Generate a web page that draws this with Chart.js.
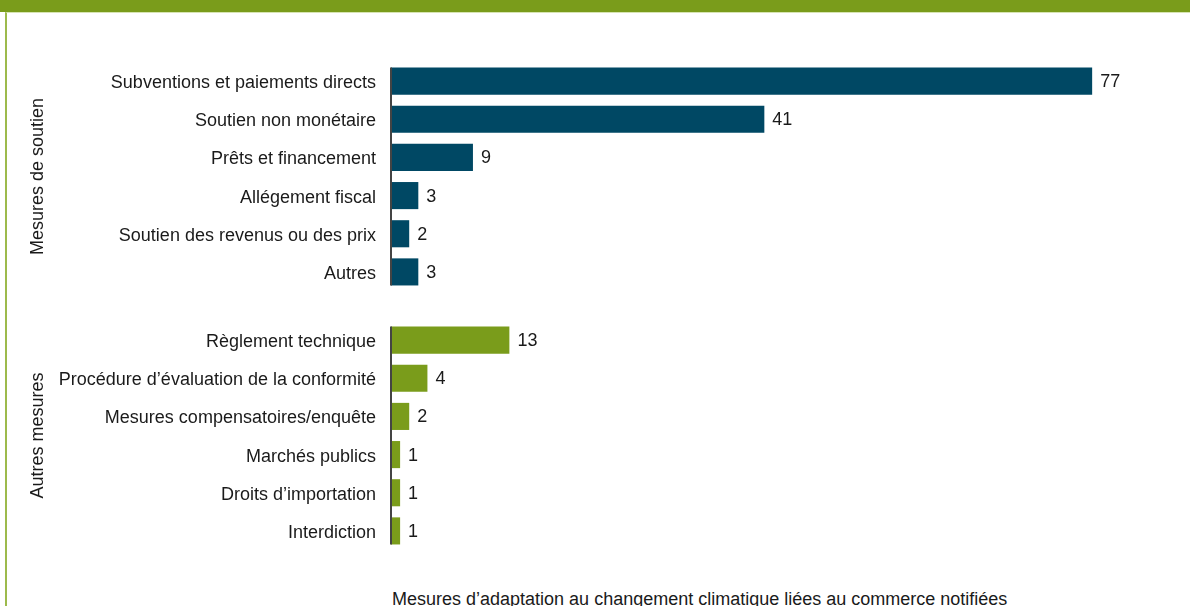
<!DOCTYPE html>
<html>
<head>
<meta charset="utf-8">
<script src="https://cdn.jsdelivr.net/npm/chart.js@4/dist/chart.umd.min.js"></script>
<style>
  html, body { margin: 0; padding: 0; background: #fff; }
  body { width: 1190px; height: 606px; overflow: hidden; position: relative; font-family: "Liberation Sans", Arial, sans-serif; }
  .entete { position: absolute; left: 0; top: 0; width: 1190px; height: 12px; background: #7a9c1b; }
  .cadre { position: absolute; left: 5px; top: 12px; width: 1190px; height: 600px; border-left: 2px solid #9dba4c; border-top: 1px solid #d7e4b3; }
  .boite { position: absolute; left: 0; width: 1190px; }
  #haut { top: 62px; height: 229px; }
  #bas { top: 321px; height: 229px; }
  .titre-x { position: absolute; left: 392px; top: 589px; font-size: 18px; color: #1a1a1a; white-space: nowrap; }
</style>
</head>
<body>
<div class="entete"></div>
<div class="cadre"></div>
<div class="boite" id="haut"><canvas id="chartSoutien"></canvas></div>
<div class="boite" id="bas"><canvas id="chartAutres"></canvas></div>
<div class="titre-x">Mesures d’adaptation au changement climatique liées au commerce notifiées</div>

<script>
// données
const categoriesSoutien = ['Subventions et paiements directs', 'Soutien non monétaire', 'Prêts et financement', 'Allégement fiscal', 'Soutien des revenus ou des prix', 'Autres'];
const valeursSoutien = [77, 41, 9, 3, 2, 3];

const categoriesAutres = ['Règlement technique', 'Procédure d’évaluation de la conformité', 'Mesures compensatoires/enquête', 'Marchés publics', 'Droits d’importation', 'Interdiction'];
const valeursAutres = [13, 4, 2, 1, 1, 1];

const couleurSoutien = '#004864';
const couleurAutres = '#7a9c1b';
const police = "'Liberation Sans', Arial, sans-serif";
const taille = 18;

// axe vertical + étiquettes de valeur
const etiquettesPlugin = {
    id: 'etiquettes',
    afterDatasetsDraw(chart) {
        const ctx = chart.ctx;
        const bars = chart.getDatasetMeta(0).data;
        const x0 = chart.scales.x.getPixelForValue(0);

        // ligne de l'axe, du haut de la première barre au bas de la dernière
        const first = bars[0], last = bars[bars.length - 1];
        ctx.save();
        ctx.strokeStyle = '#444';
        ctx.lineWidth = 2;
        ctx.beginPath();
        ctx.moveTo(x0, first.y - first.height / 2);
        ctx.lineTo(x0, last.y + last.height / 2);
        ctx.stroke();

        ctx.fillStyle = '#1a1a1a';
        ctx.font = taille + 'px ' + police;
        ctx.textBaseline = 'middle';
        ctx.textAlign = 'left';
        bars.forEach((bar, i) => {
            ctx.fillText(chart.data.datasets[0].data[i], bar.x + 8, bar.y + 1);
        });
        ctx.restore();
    }
};

function creerGraphique(id, labels, data, couleur, titre) {
    new Chart(document.getElementById(id), {
        type: 'bar',
        data: {
            labels: labels,
            datasets: [{
                data: data,
                backgroundColor: couleur,
                borderWidth: 0,
                barPercentage: 0.71,
                categoryPercentage: 1
            }]
        },
        options: {
            indexAxis: 'y',
            responsive: true,
            maintainAspectRatio: false,
            animation: false,
            layout: { padding: { left: 0, right: 25, top: 0, bottom: 0 } },
            scales: {
                x: {
                    display: false,
                    min: 0,
                    max: 85
                },
                y: {
                    grid: { display: false, drawTicks: false },
                    border: { display: false },
                    ticks: {
                        color: '#1a1a1a',
                        font: { family: police, size: taille },
                        padding: 15,
                        labelOffset: 2
                    },
                    title: {
                        display: true,
                        text: titre,
                        color: '#1a1a1a',
                        font: { family: police, size: taille },
                        padding: { top: 27, bottom: 0 }
                    },
                    afterFit(scale) {
                        scale.width = 391;
                        scale.paddingTop = 0;
                        scale.paddingBottom = 0;
                    }
                }
            },
            plugins: {
                legend: { display: false },
                tooltip: { enabled: false }
            }
        },
        plugins: [etiquettesPlugin]
    });
}

creerGraphique('chartSoutien', categoriesSoutien, valeursSoutien, couleurSoutien, 'Mesures de soutien');
creerGraphique('chartAutres', categoriesAutres, valeursAutres, couleurAutres, 'Autres mesures');
</script>
</body>
</html>
